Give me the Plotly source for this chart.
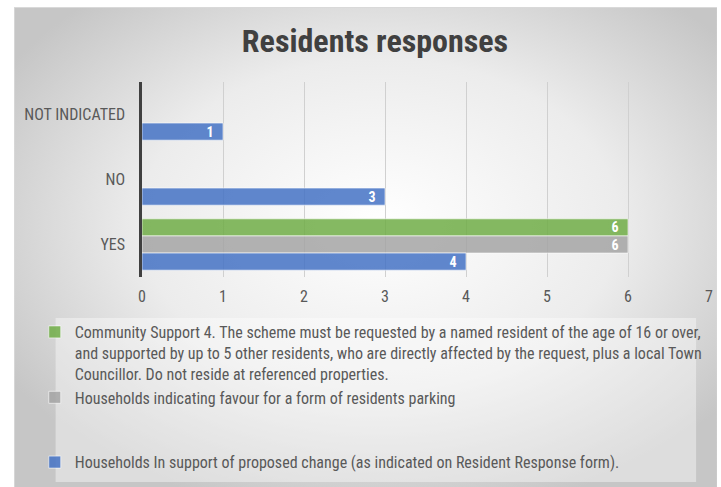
import base64
import plotly.graph_objects as go

categories = ["NOT INDICATED", "NO", "YES"]
community_values = [None, None, 6]
favour_values = [None, None, 6]
support_values = [1, 3, 4]
x_ticks = [0, 1, 2, 3, 4, 5, 6, 7]

support_name = "Households In support of proposed change (as indicated on Resident Response form)."
favour_name = "Households indicating favour for a form of residents parking"
community_name = ("Community Support 4. The scheme must be requested by a named resident of the age of 16 or over,<br>"
                  "and supported by up to 5 other residents, who are directly affected by the request, plus a local Town<br>"
                  "Councillor. Do not reside at referenced properties.")

FONT = "Liberation Sans Narrow, Arial Narrow, Roboto Condensed, sans-serif"
W, H = 721, 487
L, R, T, B = 142, 8, 82, 210
PW, PH = W - L - R, H - T - B


def px_x(px):
    return (px - L) / PW


def px_y(py):
    return (H - B - py) / PH


fig = go.Figure()
series = [
    (community_values, community_name, "rgba(112,173,71,0.85)", "a"),
    (favour_values, favour_name, "rgba(165,165,165,0.85)", "a"),
    (support_values, support_name, "rgba(68,114,196,0.85)", "b"),
]
for vals, name, color, grp in series:
    fig.add_trace(go.Bar(
        y=categories, x=vals, name=name, orientation="h",
        marker=dict(color=color, line=dict(color="rgba(255,255,255,0.6)", width=1)),
        text=[None if v is None else f"{v}\u00a0\u00a0" for v in vals],
        textposition="inside", insidetextanchor="end", textangle=0, constraintext="none",
        textfont=dict(family=FONT, size=14, color="white", weight="bold"),
        legendgroup=grp, cliponaxis=False,
    ))

svg = ('<svg xmlns="http://www.w3.org/2000/svg" width="708" height="480" viewBox="0 0 708 480">'
       '<defs><radialGradient id="g" cx="52%" cy="45%" r="62%">'
       '<stop offset="0" stop-color="#ffffff"/><stop offset="0.55" stop-color="#ececec"/>'
       '<stop offset="1" stop-color="#c6c6c6"/></radialGradient></defs>'
       '<rect x="0" y="0" width="708" height="480" fill="url(#g)"/>'
       '<rect x="0.5" y="0.5" width="708" height="480" fill="none" stroke="#d9d9d9" stroke-width="1"/></svg>')
src = "data:image/svg+xml;base64," + base64.b64encode(svg.encode()).decode()

fig.update_layout(
    width=W, height=H,
    margin=dict(l=L, r=R, t=T, b=B, pad=0),
    paper_bgcolor="white", plot_bgcolor="rgba(0,0,0,0)",
    barmode="group", bargap=0.21, bargroupgap=0,
    title=dict(text="<b>Residents responses</b>", x=(375 / W), xref="container",
               xanchor="center", y=(H - 41) / H, yanchor="middle",
               font=dict(family=FONT, size=32, color="#404040")),
    xaxis=dict(range=[0, 7], tickvals=x_ticks, showgrid=True, gridcolor="#d0d0d0", gridwidth=1,
               zeroline=False, showline=False,
               tickfont=dict(family=FONT, size=16, color="#595959"), ticklabelstandoff=8),
    yaxis=dict(showline=True, linecolor="#404040", linewidth=2.5, showgrid=False,
               autorange="reversed",
               tickfont=dict(family=FONT, size=16, color="#595959"), ticklabelstandoff=11,
               categoryorder="array", categoryarray=categories),
    showlegend=True,
    legend=dict(x=px_x(34), y=px_y(315), xanchor="left", yanchor="top",
                traceorder="grouped", tracegroupgap=41, valign="top",
                bgcolor="rgba(0,0,0,0)",
                font=dict(family=FONT, size=16, color="#595959"),
                itemwidth=30),
    images=[dict(source=src, xref="paper", yref="paper", x=px_x(13), y=px_y(7),
                 sizex=(W - 13) / PW, sizey=(H - 7) / PH, xanchor="left", yanchor="top",
                 sizing="stretch", layer="below")],
    shapes=[dict(type="rect", xref="paper", yref="paper", x0=px_x(55), x1=px_x(700),
                 y0=px_y(482), y1=px_y(318), fillcolor="rgba(255,255,255,0.4)", line=dict(width=0),
                 layer="below")],
)

fig.write_html("out.html", config={"displayModeBar": False},
               post_script="document.body.style.margin='0';document.body.style.padding='0';")
